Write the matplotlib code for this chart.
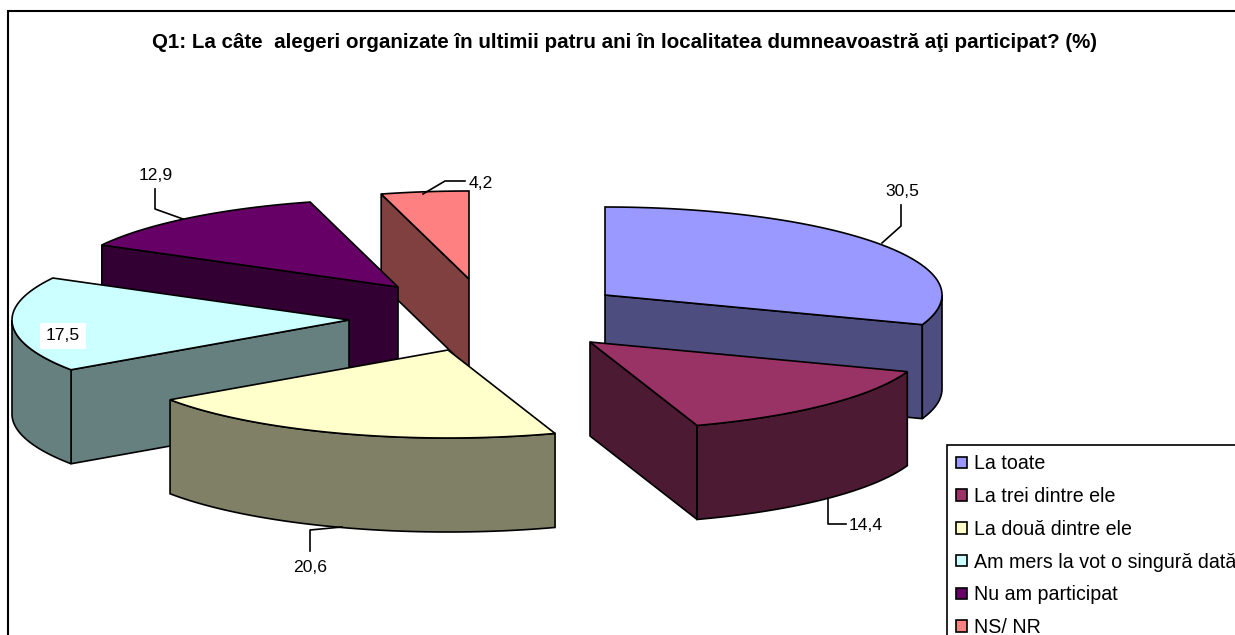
import numpy as np
import matplotlib
matplotlib.use("Agg")
import matplotlib.pyplot as plt
from matplotlib.patches import Polygon, Patch, Rectangle

plt.rcParams['font.family'] = ['Liberation Sans', 'DejaVu Sans']

title = "Q1: La câte  alegeri organizate în ultimii patru ani în localitatea dumneavoastră aţi participat? (%)"
labels = ["La toate", "La trei dintre ele", "La două dintre ele",
          "Am mers la vot o singură dată", "Nu am participat", "NS/ NR"]
values = [30.5, 14.4, 20.6, 17.5, 12.9, 4.2]

top_colors = ["#9999FF", "#993366", "#FFFFCC", "#CCFFFF", "#660066", "#FF8080"]
side_colors = ["#4D4D80", "#4D1A33", "#808066", "#668080", "#330033", "#804040"]

# where each exploded slice has its tip, in pixels of the picture
tips_x = [605, 590, 448, 349, 398, 469]
tips_y = [295, 342, 350, 320, 287, 279]
depths = [94, 94, 94, 94, 90, 90]
RX = 337
RY = 88

# text position and leader line of each value label
label_x = [902, 866, 310, 63, 156, 481]
label_y = [192, 526, 568, 336, 175, 183]
leaders = [[(901, 205), (901, 226), (882, 243)],
           [(828, 498), (828, 524), (846, 524)],
           [(310, 551), (310, 530), (342, 527)],
           None,
           [(155, 189), (155, 209), (183, 219)],
           [(465, 181), (445, 181), (423, 194)]]


def rim(cx, cy, a0, a1):
    # points on the ellipse, angle in degrees clockwise from the top
    n = max(int(abs(a1 - a0)) * 2, 2)
    t = np.radians(np.linspace(a0, a1, n))
    return np.column_stack([cx + RX * np.sin(t), cy - RY * np.cos(t)])


def lower(pts, d):
    return np.vstack([pts, (pts[::-1] + [0, d])])


def radial_face(ax, cx, cy, a, d, col):
    p = rim(cx, cy, a, a)[0]
    pts = np.array([[cx, cy], p])
    ax.add_patch(Polygon(lower(pts, d), closed=True, fc=col, ec="black", lw=1.2, joinstyle="round"))


fig = plt.figure(figsize=(12.35, 6.35), dpi=100, facecolor="white")
ax = fig.add_axes([0, 0, 1, 1])
ax.set_xlim(0, 1235)
ax.set_ylim(635, 0)
ax.axis("off")

ax.add_patch(Rectangle((8, 11), 1300, 700, fc="white", ec="black", lw=1.5))
ax.text(625, 43, title, ha="center", va="center", fontsize=14.8, fontweight="bold", color="black")

edges = np.concatenate([[0], np.cumsum(values)]) / sum(values) * 360

# back slices first, the right hand pair last
for i in [5, 4, 3, 2, 0, 1]:
    a0, a1 = edges[i], edges[i + 1]
    cx, cy, d = tips_x[i], tips_y[i], depths[i]
    # flat side walls, only when they look towards the viewer
    if np.cos(np.radians(a0 - 90)) < -0.01:
        radial_face(ax, cx, cy, a0, d, side_colors[i])
    if np.cos(np.radians(a1 + 90)) < -0.01:
        radial_face(ax, cx, cy, a1, d, side_colors[i])
    # curved wall
    f0, f1 = max(a0, 90), min(a1, 270)
    if f1 > f0:
        ax.add_patch(Polygon(lower(rim(cx, cy, f0, f1), d), closed=True,
                             fc=side_colors[i], ec="black", lw=1.2))
    top = np.vstack([[cx, cy], rim(cx, cy, a0, a1)])
    ax.add_patch(Polygon(top, closed=True, fc=top_colors[i], ec="black", lw=1.2))

for i, v in enumerate(values):
    txt = f"{v:.1f}".replace(".", ",")
    box = None
    if leaders[i] is None:
        box = dict(fc="white", ec="none", pad=4)
    ax.text(label_x[i], label_y[i], txt, ha="center", va="center", fontsize=12.6, color="black", bbox=box)
    if leaders[i] is not None:
        xs, ys = zip(*leaders[i])
        ax.plot(xs, ys, color="black", lw=1.2)

handles = [Patch(fc=c, ec="black", lw=1.2) for c in top_colors]
leg = ax.legend(handles, labels, loc="upper left", bbox_to_anchor=(947, 445),
                bbox_transform=ax.transData, fontsize=14.1, fancybox=False,
                edgecolor="black", framealpha=1, handlelength=0.52, handleheight=0.52,
                handletextpad=0.36, labelspacing=0.70, borderaxespad=0, borderpad=0.48)
leg.get_frame().set_linewidth(1.2)

fig.savefig("out.png", dpi=100)
